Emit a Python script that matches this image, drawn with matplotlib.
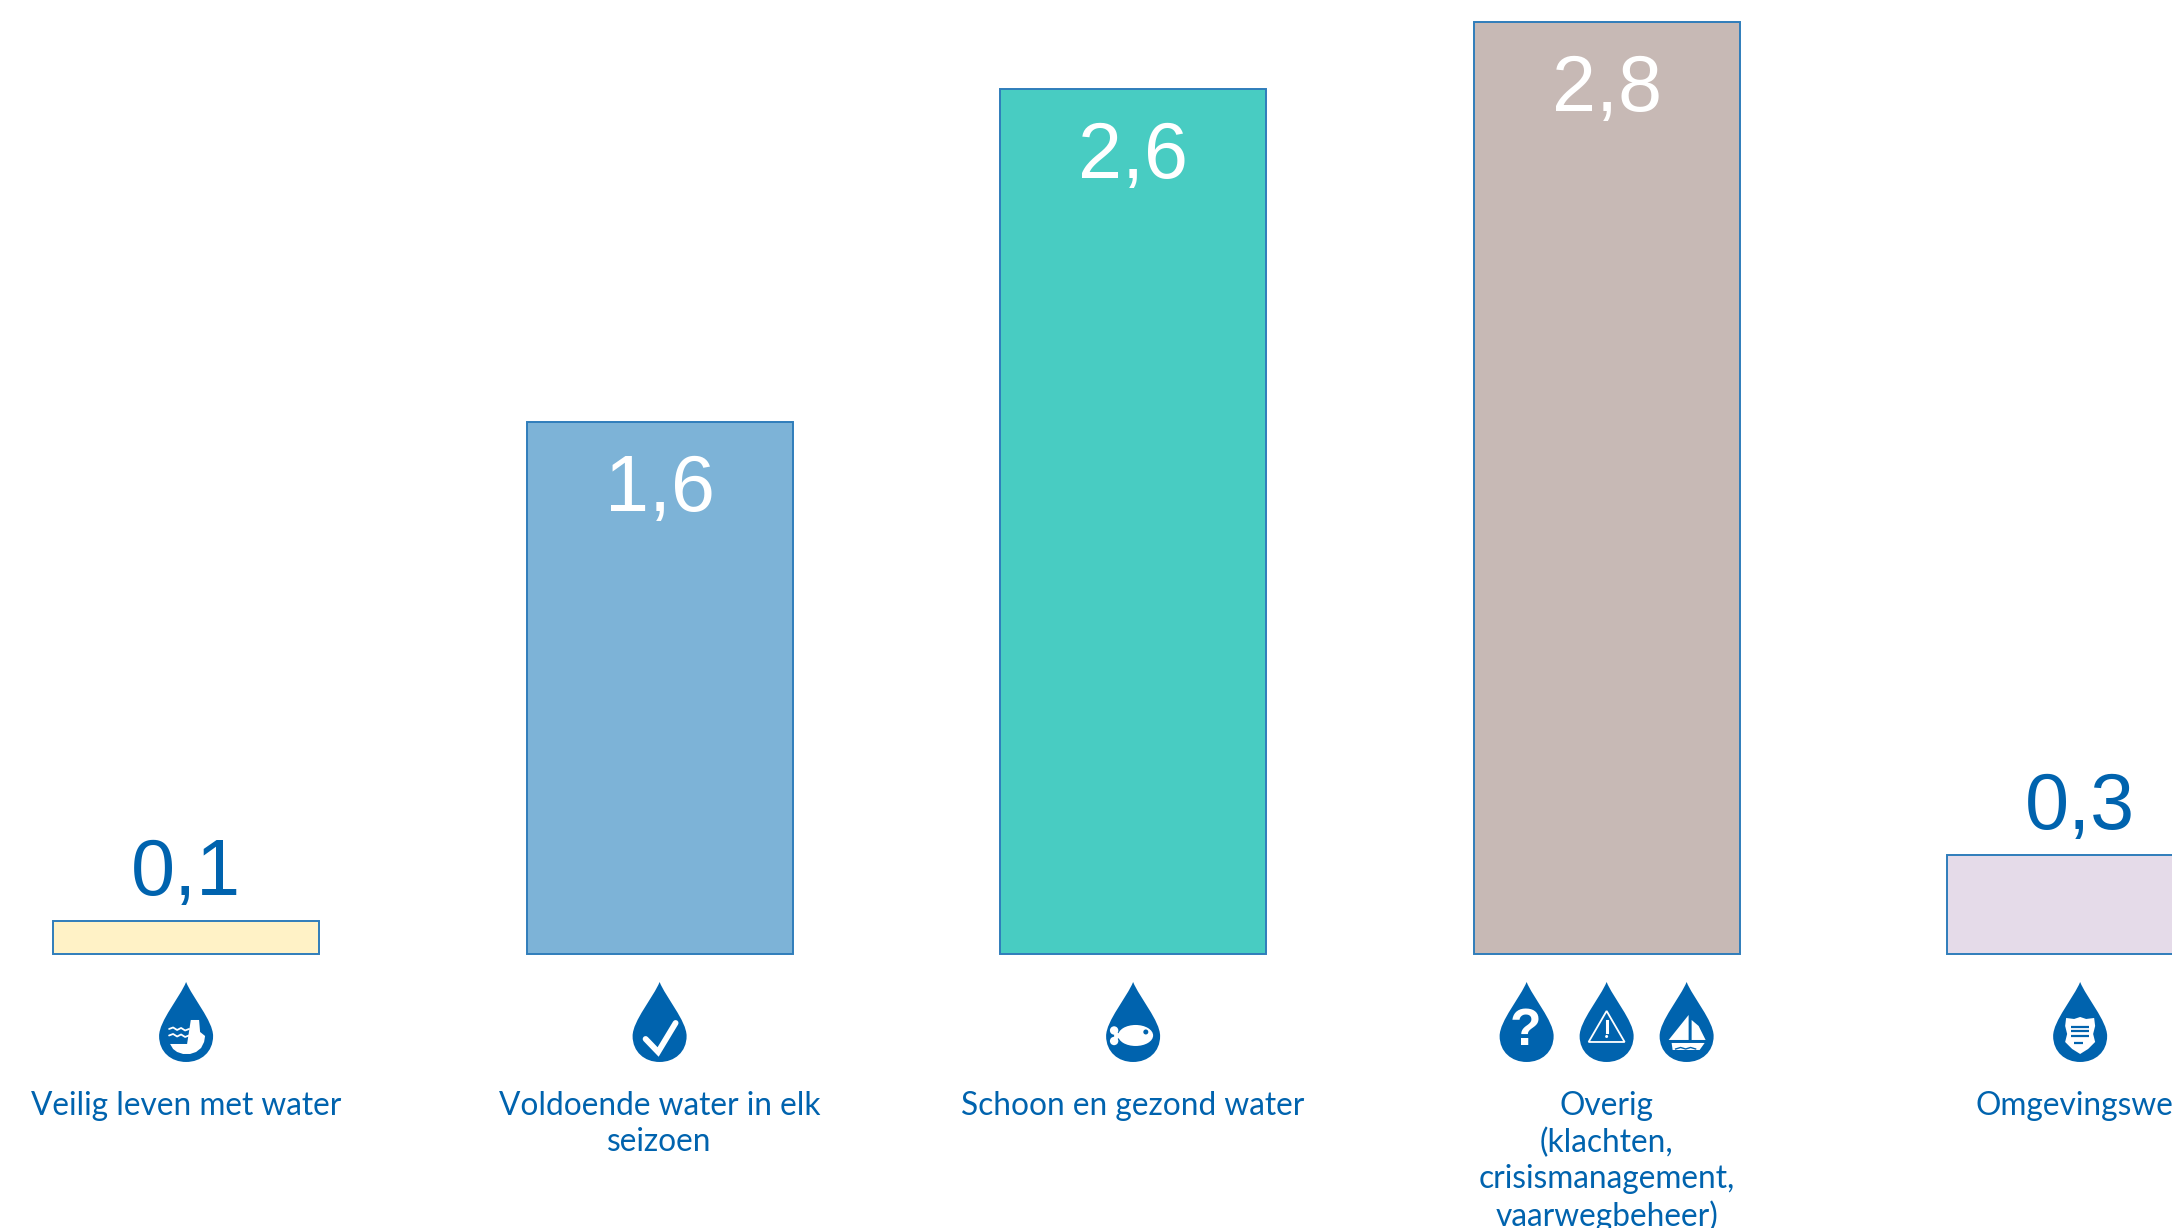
import matplotlib
matplotlib.use("Agg")
import matplotlib.pyplot as plt
from matplotlib.patches import PathPatch, Circle, Ellipse, Polygon
from matplotlib.path import Path
from matplotlib.transforms import Affine2D

categories = [
    "Veilig leven met water",
    "Voldoende water in elk\nseizoen",
    "Schoon en gezond water",
    "Overig\n(klachten,\ncrisismanagement,\nvaarwegbeheer)",
    "Omgevingswet",
]
values = [0.1, 1.6, 2.6, 2.8, 0.3]
value_labels = ["0,1", "1,6", "2,6", "2,8", "0,3"]
bar_colors = ["#FFF2C6", "#7DB3D7", "#48CCC2", "#C7B9B5", "#E5DBE9"]
icons = [["dam"], ["check"], ["fish"], ["question", "warning", "boat"], ["shield"]]

BLUE = "#0063AE"
EDGE = "#2F7DBB"

fig = plt.figure(figsize=(21.72, 12.28), dpi=100)
ax = fig.add_axes([0, 0, 1, 1])
ax.set_xlim(-0.393, 4.194)
ax.set_ylim(-0.8213, 2.866)
ax.axis("off")

xs = list(range(len(values)))
ax.bar(xs, values, width=0.562, color=bar_colors, edgecolor=EDGE, linewidth=1.4)

# drop outline, px from the tip, y pointing down
DROP = Path(
    [(0, 0), (6, 15), (27, 39), (27, 54), (27, 70), (15, 80), (0, 80),
     (-15, 80), (-27, 70), (-27, 54), (-27, 39), (-6, 15), (0, 0), (0, 0)],
    [Path.MOVETO] + [Path.CURVE4] * 12 + [Path.CLOSEPOLY],
)


def add_wave(tr, y):
    wave_x = [-17, -13, -9, -5, -1, 3]
    wave_y = [y, y - 1.5, y + 1, y - 1, y + 1.5, y]
    ax.plot(wave_x, wave_y, color="white", lw=1.3, transform=tr, solid_capstyle="round")


def draw_icon(name, tr):
    if name == "check":
        ax.plot([-14, -1.5, 16], [57, 70, 41], color="white", lw=4.2, transform=tr,
                solid_capstyle="round", solid_joinstyle="miter")
    elif name == "fish":
        ax.add_patch(Ellipse((2.5, 53.5), 35, 21, color="white", lw=0, transform=tr))
        ax.add_patch(Circle((-19, 48.5), 4.2, color="white", lw=0, transform=tr))
        ax.add_patch(Circle((-19, 59), 4.2, color="white", lw=0, transform=tr))
        ax.add_patch(Polygon([(-19, 49), (-10, 53.5), (-19, 59)], color="white", lw=0, transform=tr))
        ax.add_patch(Circle((12.7, 50), 2.5, color=BLUE, lw=0, transform=tr))
    elif name == "dam":
        verts = [(4.7, 38), (13, 38), (14, 50), (19, 54), (18, 60), (15, 66), (10, 70), (4, 72),
                 (-3, 72), (-9, 70), (-13, 67), (-16, 62), (1, 62)]
        ax.add_patch(Polygon(verts, color="white", lw=0, transform=tr))
        add_wave(tr, 47)
        add_wave(tr, 53.5)
    elif name == "question":
        ax.text(-1, 50, "?", color="white", fontsize=37, fontweight="bold", family="Liberation Sans",
                ha="center", va="center", transform=tr)
    elif name == "warning":
        ax.add_patch(Polygon([(0, 29), (-18, 60), (18, 60)], fill=False, ec="white", lw=1.3,
                             joinstyle="miter", transform=tr))
        ax.plot([0, 0], [39, 50], color="white", lw=2.2, transform=tr)
        ax.add_patch(Circle((0, 54.5), 1.5, color="white", lw=0, transform=tr))
    elif name == "boat":
        ax.add_patch(Polygon([(2, 33), (-18, 58), (2, 58)], color="white", lw=0, transform=tr))
        ax.add_patch(Polygon([(5, 38), (12, 44), (19, 58), (5, 58)], color="white", lw=0, transform=tr))
        ax.add_patch(Polygon([(-15, 61), (18, 61), (13, 68), (-14, 68)], color="white", lw=0, transform=tr))
        ax.plot([-11, -6, -1, 4, 9], [67, 65.5, 67, 65.5, 67], color=BLUE, lw=1, transform=tr)
    elif name == "shield":
        verts = [(0, 35), (6, 37), (14, 36), (15, 44), (13, 52), (15, 60), (8, 67), (0, 72),
                 (-8, 67), (-15, 60), (-13, 52), (-15, 44), (-14, 36), (-6, 37)]
        ax.add_patch(Polygon(verts, color="white", lw=0, transform=tr))
        for y, half in [(45, 9), (49.5, 9), (54, 9), (61, 6)]:
            ax.plot([-half, half if half == 9 else 3], [y, y], color=BLUE, lw=1.6, transform=tr,
                    solid_capstyle="butt")


ICON_TIP_Y = ax.transData.transform((0, 0))[1] - 27.5  # tip lies 27.5 px below the baseline
ICON_STEP = 80

for x, val, lab, cat, names in zip(xs, values, value_labels, categories, icons):
    # value label: white inside tall bars, blue above short ones
    if val > 1:
        ax.annotate(lab, (x, val), xytext=(0, -31), textcoords="offset pixels", ha="center", va="top",
                    color="white", fontsize=57, family="Liberation Sans")
    else:
        ax.annotate(lab, (x, val), xytext=(0, 9), textcoords="offset pixels", ha="center", va="bottom",
                    color=BLUE, fontsize=57, family="Liberation Sans")

    ax.annotate(cat, (x, 0), xytext=(0, -137), textcoords="offset pixels", ha="center", va="top",
                color=BLUE, fontsize=22.8, family="Lato", linespacing=1.25)

    cx = ax.transData.transform((x, 0))[0]
    for i, name in enumerate(names):
        off = (i - (len(names) - 1) / 2) * ICON_STEP
        tr = Affine2D().scale(1, -1).translate(cx + off, ICON_TIP_Y)
        ax.add_patch(PathPatch(DROP, fc=BLUE, ec="none", transform=tr))
        draw_icon(name, tr)

fig.savefig("out.png", dpi=100)
